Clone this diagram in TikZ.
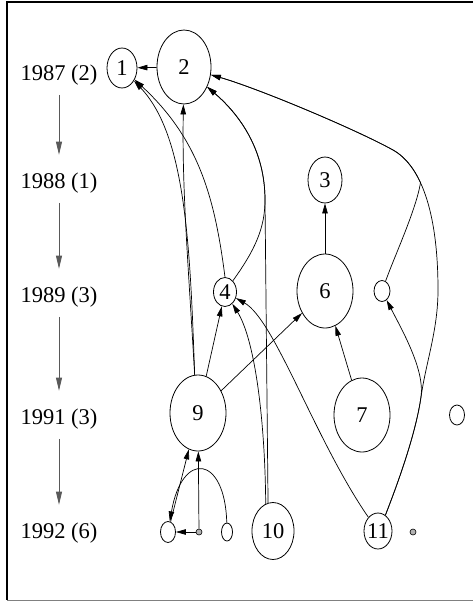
\documentclass[tikz,border=0pt]{standalone}
\usepackage{fontspec}
\setmainfont{Liberation Serif}
\usepackage{tikz}
\usetikzlibrary{arrows.meta,shapes.geometric}

\begin{document}
\begin{tikzpicture}[x=1pt,y=-1pt,
  every node/.style={font=\fontsize{22.5}{27}\selectfont},
  vert/.style={ellipse,draw,inner sep=0pt,line width=0.8pt},
  pt/.style={circle,draw,fill=gray!60,inner sep=0pt,minimum size=6pt,line width=0.6pt},
  year/.style={anchor=base,inner sep=0pt},
  edge/.style={line width=0.7pt,-{Triangle[length=10pt,width=5.5pt]}},
  yeararr/.style={gray!70!black,line width=0.8pt,-{Triangle[length=13pt,width=6pt]},shorten <=10pt,shorten >=17.5pt}]
  \useasboundingbox (0,0) rectangle (473,602);
  \draw[line width=1.2pt] (473,2) -- (7,2) -- (7,600);
  \draw[gray,line width=1pt] (7,600) -- (473,600);

  \node[year] (y87) at (59,80) {1987 (2)};
  \node[year] (y88) at (59,188) {1988 (1)};
  \node[year] (y89) at (59,302) {1989 (3)};
  \node[year] (y91) at (59,424) {1991 (3)};
  \node[year] (y92) at (59,538) {1992 (6)};
  \draw[yeararr] (y87) -- (y88);
  \draw[yeararr] (y88) -- (y89);
  \draw[yeararr] (y89) -- (y91);
  \draw[yeararr] (y91) -- (y92);

  \node[vert,minimum width=30pt,minimum height=40pt] (n1) at (122,68) {1};
  \node[vert,minimum width=54pt,minimum height=74pt] (n2) at (184,67) {2};
  \node[vert,minimum width=34pt,minimum height=46pt] (n3) at (325,180) {3};
  \node[vert,minimum width=23pt,minimum height=29pt] (n4) at (225,292) {4};
  \node[vert,minimum width=56pt,minimum height=74pt] (n6) at (325,291) {6};
  \node[vert,minimum width=16pt,minimum height=21pt] (s89) at (382,291) {};
  \node[vert,minimum width=56pt,minimum height=74pt] (n7) at (362,415) {7};
  \node[vert,minimum width=56pt,minimum height=76pt] (n9) at (198,413) {9};
  \node[vert,minimum width=15pt,minimum height=20pt] (s91) at (457,415) {};
  \node[vert,minimum width=15pt,minimum height=21pt] (a92) at (168,532) {};
  \node[pt] (b92) at (199,532) {}; % 小さい点
  \node[vert,minimum width=11pt,minimum height=18pt] (c92) at (227,532) {};
  \node[vert,minimum width=42pt,minimum height=57pt] (n10) at (273,531) {10};
  \node[vert,minimum width=28pt,minimum height=36pt,inner xsep=-3pt] (n11) at (378,531) {11};
  \node[pt] (d92) at (413,532) {};

  \draw[edge] (n2) -- (n1);
  \draw[edge] (n9.95) .. controls (188,260) and (182,190) .. (n2);
  \draw[edge] (n9.95) .. controls (190,240) and (185,135) .. (n1);
  \draw[edge] (n4.north) .. controls (215,200) and (200,140) .. (n1);
  \draw[edge] (n9) -- (n4);
  \draw[edge] (n9) -- (n6);
  \draw[edge] (n10.100) -- (265,200) .. controls (265,150) and (240,115) .. (n2);
  \draw[edge] (n4.55) .. controls (255,250) and (265,228) .. (265,200) .. controls (265,150) and (240,115) .. (n2);
  \draw[edge] (n10.105) .. controls (265,420) and (255,340) .. (n4);
  \draw[edge] (n11.125) .. controls (315,440) and (275,320) .. (n4);
  \draw[edge] (n6) -- (n3);
  \draw[edge] (n7) -- (n6);
  \draw[edge] (n11.65) .. controls (405,465) and (417,425) .. (421,397)
    .. controls (426,362) and (438,330) .. (438,290)
    .. controls (438,210) and (420,165) .. (393,150)
    .. controls (357,130) and (260,89) .. (n2);
  \draw[edge] (n11.65) .. controls (405,465) and (417,425) .. (421,397)
    .. controls (425,370) and (402,330) .. (s89);
  \draw[edge] (s89.70) .. controls (395,255) and (416,210) .. (420.5,182.7)
    .. controls (413.2,166.8) and (403.8,156) .. (393,150)
    .. controls (357,130) and (260,89) .. (n2);
  \draw[edge] (b92) -- (a92);
  \draw[edge] (b92) -- (n9);
  \draw[edge] (a92) -- (n9);
  \draw[edge] (c92) .. controls (225,455) and (182,450) .. (a92);
\end{tikzpicture}
\end{document}
